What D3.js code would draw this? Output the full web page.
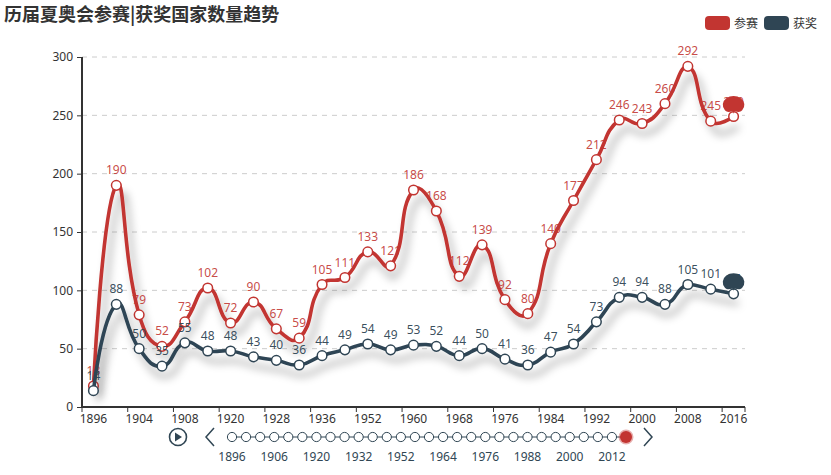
<!DOCTYPE html>
<html>
<head>
<meta charset="utf-8">
<script src="https://cdn.jsdelivr.net/npm/d3@7/dist/d3.min.js"></script>
<style>
  html, body { margin: 0; padding: 0; background: #fff; }
  svg { display: block; font-family: "Noto Sans", "Noto Sans CJK SC", sans-serif; }
</style>
</head>
<body>
<svg id="chart" width="831" height="475"></svg>
<script>
// ---------- data ----------
const years = ["1896","1900","1904","1906","1908","1912","1920","1924","1928","1932","1936","1948","1952","1956","1960","1964","1968","1972","1976","1980","1984","1988","1992","1996","2000","2004","2008","2012","2016"];
const participants = [18,190,79,52,73,102,72,90,67,59,105,111,133,121,186,168,112,139,92,80,140,177,212,246,243,260,292,245,249];
const winners = [14,88,50,35,55,48,48,43,40,36,44,49,54,49,53,52,44,50,41,36,47,54,73,94,94,88,105,101,97];
const seriesNames = ["参赛", "获奖"];
const seriesColors = ["#c23531", "#2f4554"];
const yTicks = [0, 50, 100, 150, 200, 250, 300];
const titleText = "历届夏奥会参赛|获奖国家数量趋势";

(function () {
// ---------- ECharts-like smooth curve ----------
function ECSmooth(context) { this._context = context; }
ECSmooth.prototype = {
  areaStart() {}, areaEnd() {},
  lineStart() { this._pts = []; },
  point(px, py) { this._pts.push([+px, +py]); },
  lineEnd() {
    const p = this._pts, ctx = this._context, s = 0.5;
    if (!p.length) return;
    const mnx = d3.min(p, d => d[0]), mxx = d3.max(p, d => d[0]);
    const mny = d3.min(p, d => d[1]), mxy = d3.max(p, d => d[1]);
    const clamp = c => [Math.max(mnx, Math.min(mxx, c[0])), Math.max(mny, Math.min(mxy, c[1]))];
    ctx.moveTo(p[0][0], p[0][1]);
    let cp0 = p[0].slice();
    for (let i = 1; i < p.length; i++) {
      const pt = p[i], prev = p[i - 1], next = p[i + 1];
      let cp1, ratio = 0.5, v = [0, 0];
      if (!next) { cp1 = pt.slice(); }
      else {
        v = [next[0] - prev[0], next[1] - prev[1]];
        const l0 = Math.hypot(pt[0] - prev[0], pt[1] - prev[1]);
        const l1 = Math.hypot(next[0] - pt[0], next[1] - pt[1]);
        ratio = l1 / (l0 + l1);
        cp1 = [pt[0] - v[0] * s * (1 - ratio), pt[1] - v[1] * s * (1 - ratio)];
      }
      cp0 = clamp(cp0); cp1 = clamp(cp1);
      ctx.bezierCurveTo(cp0[0], cp0[1], cp1[0], cp1[1], pt[0], pt[1]);
      cp0 = [pt[0] + v[0] * s * ratio, pt[1] + v[1] * s * ratio];
    }
  }
};
const curveEC = ctx => new ECSmooth(ctx);

// ---------- layout ----------
const svg = d3.select("#chart");
const gLeft = 82, gRight = 745, gTop = 57, gBottom = 407;
const numFont = "Noto Sans, Noto Sans CJK SC, sans-serif";

const x = d3.scaleBand().domain(years).range([gLeft, gRight]).paddingInner(0).paddingOuter(0);
const cx = d => x(d) + x.bandwidth() / 2;
const y = d3.scaleLinear().domain([0, 300]).range([gBottom, gTop]);

const defs = svg.append("defs");
const f = defs.append("filter").attr("id", "shadow").attr("x", "-20%").attr("y", "-20%").attr("width", "140%").attr("height", "150%");
f.append("feDropShadow").attr("dx", 5).attr("dy", 10).attr("stdDeviation", 4.5)
  .attr("flood-color", "#000").attr("flood-opacity", 0.35);

// title
svg.append("text").attr("x", 4).attr("y", 21)
  .attr("font-family", "Noto Sans CJK SC, sans-serif")
  .attr("font-size", 18).attr("font-weight", "bold").attr("fill", "#333")
  .text(titleText);

// legend
const legendX = [705, 764];
seriesNames.forEach((n, i) => {
  const g = svg.append("g").attr("transform", `translate(${legendX[i]},16)`);
  g.append("rect").attr("width", 25).attr("height", 14).attr("rx", 4).attr("fill", seriesColors[i]);
  g.append("text").attr("x", 29).attr("y", 11.5).attr("font-size", 12)
    .attr("font-family", "Noto Sans CJK SC, sans-serif").attr("fill", "#333").text(n);
});

// grid lines
svg.append("g").selectAll("line").data(yTicks.filter(t => t > 0)).join("line")
  .attr("x1", gLeft).attr("x2", gRight).attr("y1", d => y(d)).attr("y2", d => y(d))
  .attr("stroke", "#ccc").attr("stroke-dasharray", "5,5").attr("stroke-width", 1);

// y axis
const yAxis = svg.append("g").attr("transform", `translate(${gLeft},0)`)
  .call(d3.axisLeft(y).tickValues(yTicks).tickSize(5).tickPadding(4));
yAxis.select(".domain").attr("stroke", "#333").attr("stroke-width", 2).attr("d", `M0,${gBottom}V${gTop}`);
yAxis.selectAll(".tick line").attr("stroke", "#333").attr("stroke-width", 1);
yAxis.selectAll(".tick text").attr("font-size", 12).attr("fill", "#333").attr("font-family", numFont);

// x axis
const xLabelYears = years.filter((d, i) => i % 2 === 0);
const xAxis = svg.append("g").attr("transform", `translate(0,${gBottom})`)
  .call(d3.axisBottom(x).tickValues(xLabelYears).tickSize(0).tickPadding(7));
xAxis.select(".domain").attr("stroke", "#333").attr("stroke-width", 2).attr("d", `M${gLeft},0H${gRight}`);
xAxis.selectAll(".tick text").attr("font-size", 12).attr("fill", "#333").attr("font-family", numFont);
const tickPos = xLabelYears.map(d => x(d)).concat([gRight]);
xAxis.append("g").selectAll("line").data(tickPos).join("line")
  .attr("x1", d => d).attr("x2", d => d).attr("y1", 0).attr("y2", 5)
  .attr("stroke", "#333").attr("stroke-width", 1);

// series
const allSeries = [participants, winners];
const line = d3.line().x((d, i) => cx(years[i])).y(d => y(d)).curve(curveEC);

allSeries.forEach((vals, si) => {
  const g = svg.append("g");
  g.append("path").datum(vals).attr("d", line)
    .attr("fill", "none").attr("stroke", seriesColors[si]).attr("stroke-width", 3.6)
    .attr("stroke-linejoin", "round").attr("filter", "url(#shadow)");
  g.append("g").selectAll("circle").data(vals).join("circle")
    .attr("cx", (d, i) => cx(years[i])).attr("cy", d => y(d)).attr("r", 4.8)
    .attr("fill", "#fff").attr("stroke", seriesColors[si]).attr("stroke-width", 1.5);
  g.append("g").selectAll("text").data(vals).join("text")
    .attr("x", (d, i) => cx(years[i])).attr("y", d => y(d) - 11)
    .attr("text-anchor", "middle").attr("font-size", 12).attr("font-family", numFont)
    .attr("fill", seriesColors[si]).attr("fill-opacity", si === 0 ? 0.9 : 0.95)
    .text(d => d);
});

// pin markers at last point
function pinPath(px, py, w, h) {
  const p = d3.path();
  const r = w / 2;
  const hh = Math.max(w, h);
  const dy = r * r / (hh - r);
  const pcy = py - hh + r + dy;
  const angle = Math.asin(dy / r);
  const dx = Math.cos(angle) * r;
  const tanX = Math.sin(angle), tanY = Math.cos(angle);
  const cpLen = r * 0.6, cpLen2 = r * 0.7;
  p.moveTo(px - dx, pcy + dy);
  p.arc(px, pcy, r, Math.PI - angle, Math.PI * 2 + angle);
  p.bezierCurveTo(px + dx - tanX * cpLen, pcy + dy + tanY * cpLen, px, py - cpLen2, px, py);
  p.bezierCurveTo(px, py - cpLen2, px - dx + tanX * cpLen, pcy + dy + tanY * cpLen, px - dx, pcy + dy);
  p.closePath();
  return p.toString();
}
allSeries.forEach((vals, si) => {
  const last = vals.length - 1;
  const px = cx(years[last]), py = y(vals[last]) - 2;
  svg.append("path")
    .attr("d", pinPath(0, 0, 12, 16))
    .attr("transform", `translate(${px},${py}) scale(1.8,1.5)`)
    .attr("fill", seriesColors[si]);
});

// ---------- timeline ----------
const tlColor = "#304654";
const tl = svg.append("g");
const tx = d3.scalePoint().domain(years).range([232, 626]);
const tlY = 437;
tl.append("circle").attr("cx", 178).attr("cy", tlY).attr("r", 8.5)
  .attr("fill", "none").attr("stroke", tlColor).attr("stroke-width", 1.6);
tl.append("path").attr("d", `M175,${tlY - 4.5}L182,${tlY}L175,${tlY + 4.5}Z`).attr("fill", tlColor);
tl.append("path").attr("d", `M214,${tlY - 9}L206,${tlY}L214,${tlY + 9}`)
  .attr("fill", "none").attr("stroke", tlColor).attr("stroke-width", 1.5);
tl.append("path").attr("d", `M644,${tlY - 9}L652,${tlY}L644,${tlY + 9}`)
  .attr("fill", "none").attr("stroke", tlColor).attr("stroke-width", 1.5);
tl.append("line").attr("x1", tx(years[0])).attr("x2", tx(years[years.length - 1]))
  .attr("y1", tlY).attr("y2", tlY).attr("stroke", tlColor).attr("stroke-width", 1);
const current = years[years.length - 1];
tl.append("g").selectAll("circle").data(years.filter(d => d !== current)).join("circle")
  .attr("cx", d => tx(d)).attr("cy", tlY).attr("r", 4.6)
  .attr("fill", "#fff").attr("stroke", tlColor).attr("stroke-width", 1);
tl.append("circle").attr("cx", tx(current)).attr("cy", tlY).attr("r", 6)
  .attr("fill", "#c23531").attr("stroke", "rgba(194,53,49,0.4)").attr("stroke-width", 3);
tl.append("g").selectAll("text").data(years.filter((d, i) => i % 3 === 0)).join("text")
  .attr("x", d => tx(d)).attr("y", 461).attr("text-anchor", "middle")
  .attr("font-size", 12).attr("font-family", numFont).attr("fill", tlColor).text(d => d);
})();
</script>
</body>
</html>
